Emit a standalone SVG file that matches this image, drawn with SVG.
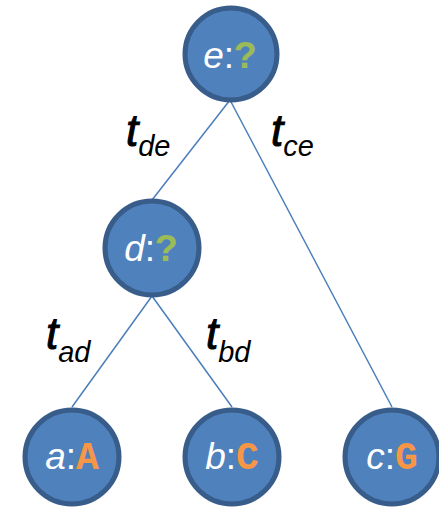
<svg xmlns="http://www.w3.org/2000/svg" width="439" height="507" viewBox="0 0 439 507">
<style>
.node circle{fill:#4f81bd;stroke:#385d8a;stroke-width:5}
.nl{font-family:"Liberation Sans",Arial,sans-serif;font-size:37px;fill:#ffffff;text-anchor:middle}
.v{font-style:italic}
.q{font-family:"Liberation Mono","Courier New",monospace;font-weight:bold;font-size:38px;fill:#9bbb59}
.o{font-family:"Liberation Mono","Courier New",monospace;font-weight:bold;font-size:38px;fill:#f79646}
.edges line{stroke:#4a7ebb;stroke-width:1.5}
.el{font-family:"Liberation Sans",Arial,sans-serif;fill:#000000}
.t{font-size:44px;font-style:italic;stroke:#000000;stroke-width:1}
.s{font-size:29px;font-style:italic}
</style>
<rect width="439" height="507" fill="#ffffff"/>
<g class="edges" id="connectors">
<line x1="230" y1="100" x2="152" y2="200"/>
<line x1="230" y1="100" x2="392" y2="407"/>
<line x1="152" y1="296" x2="72" y2="407"/>
<line x1="152" y1="296" x2="232" y2="407"/>
</g>
<g class="el" id="edge-labels">
<text x="126" y="146"><tspan class="t">t</tspan><tspan class="s" dy="10">de</tspan></text>
<text x="271" y="146"><tspan class="t">t</tspan><tspan class="s" dy="10">ce</tspan></text>
<text x="46" y="349"><tspan class="t">t</tspan><tspan class="s" dy="13">ad</tspan></text>
<text x="206" y="349"><tspan class="t">t</tspan><tspan class="s" dy="13">bd</tspan></text>
</g>
<g class="node" id="node-e"><circle cx="231" cy="54" r="46"/><text class="nl" x="230" y="68"><tspan class="v">e</tspan>:<tspan class="q">?</tspan></text></g>
<g class="node" id="node-d"><circle cx="152" cy="248" r="47"/><text class="nl" x="151" y="261"><tspan class="v">d</tspan>:<tspan class="q">?</tspan></text></g>
<g class="node" id="node-a"><circle cx="72" cy="457" r="47"/><text class="nl" x="72" y="469"><tspan class="v">a</tspan>:<tspan class="o">A</tspan></text></g>
<g class="node" id="node-b"><circle cx="232" cy="457" r="47"/><text class="nl" x="232" y="469"><tspan class="v">b</tspan>:<tspan class="o">C</tspan></text></g>
<g class="node" id="node-c"><circle cx="392" cy="457" r="47"/><text class="nl" x="392" y="469"><tspan class="v">c</tspan>:<tspan class="o">G</tspan></text></g>
</svg>
